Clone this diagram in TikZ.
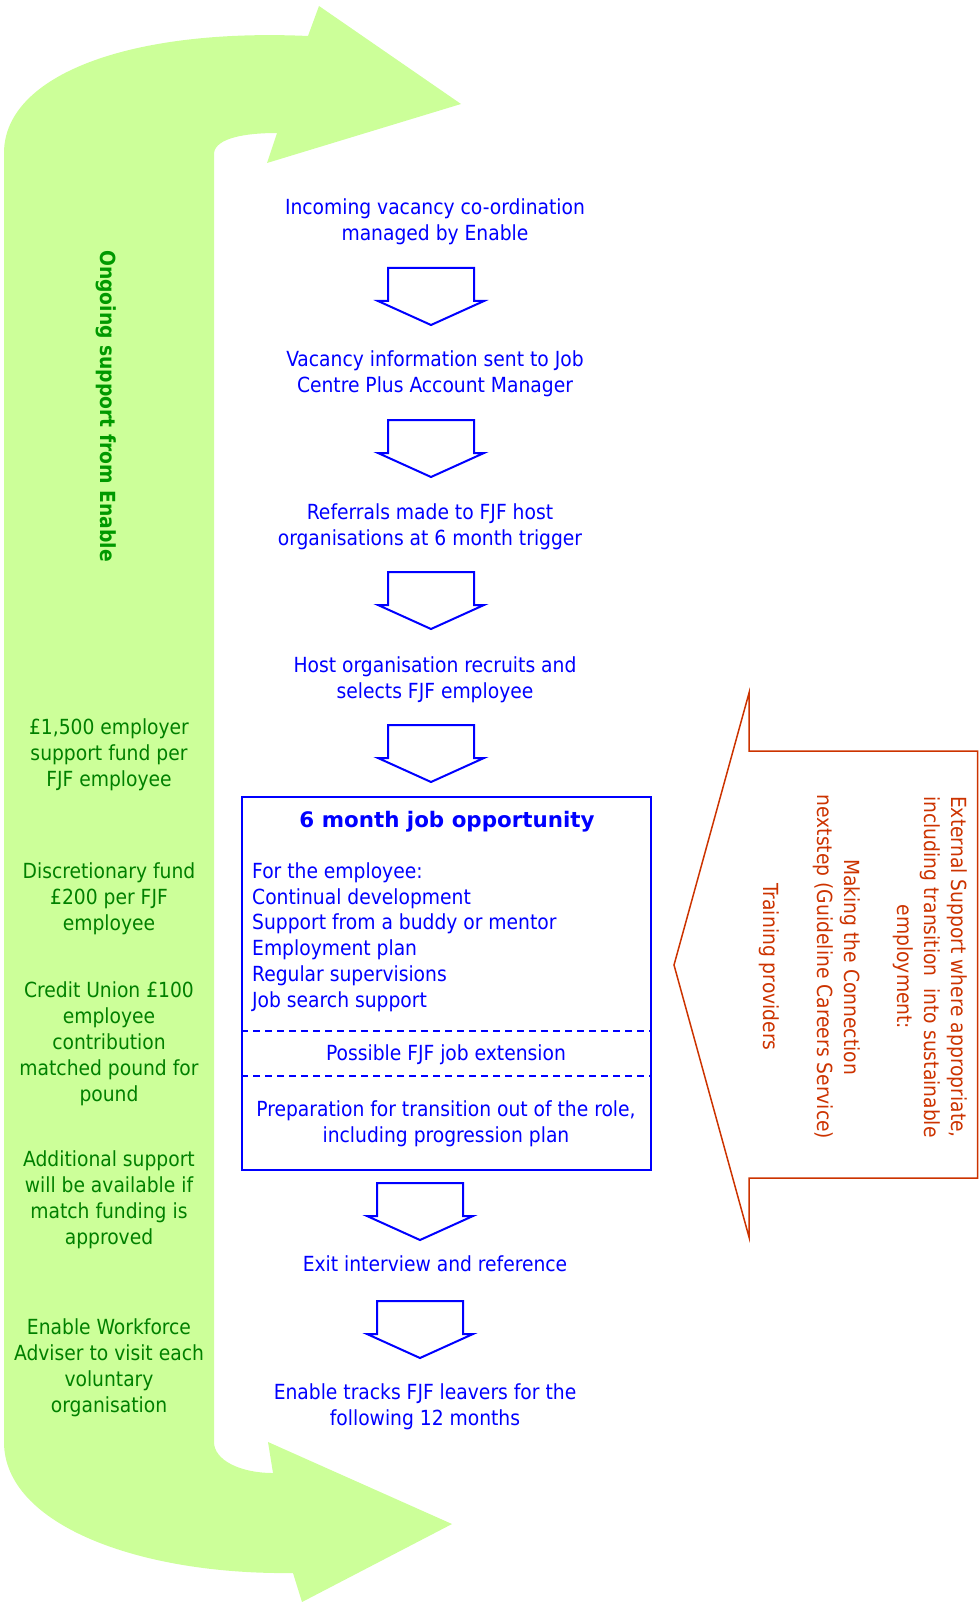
\documentclass[tikz,border=0pt]{standalone}
\usepackage{fontspec}
\setmainfont{DejaVu Sans Condensed}
\newfontfamily\widefont{DejaVu Sans}
\usepackage{tikz}
\usetikzlibrary{calc}

\definecolor{bandgreen}{HTML}{CCFF99}
\definecolor{darkgreen}{HTML}{008000}
\definecolor{titlegreen}{HTML}{009900}
\definecolor{flowblue}{HTML}{0000FF}
\definecolor{extred}{HTML}{CC3300}

\tikzset{
  darrow/.pic={\draw[flowblue, line width=2pt]
    (-43,0) -- (43,0) -- (43,33) -- (53,33) -- (0,57) -- (-53,33) -- (-43,33) -- cycle;}
}

\begin{document}
\begin{tikzpicture}[
  x=1pt, y=-1pt,
  flow/.style={text=flowblue, align=center, font=\fontsize{20.8}{26.4}\selectfont},
  side/.style={text=darkgreen, align=center, font=\fontsize{20.8}{26}\selectfont},
  ext/.style={text=extred, align=center, rotate=-90, font=\fontsize{20.8}{26.8}\selectfont},
  box/.style={draw=flowblue, line width=2pt, minimum width=409, minimum height=373},
  sep/.style={flowblue, line width=2pt, dash pattern=on 7pt off 5pt}
]
\useasboundingbox (0,0) rectangle (979,1602);

% ongoing support band
\fill[bandgreen] (4,153) -- (4,1442)
  .. controls (4,1525) and (140,1575) .. (293,1573)
  -- (302,1602) -- (452,1524) -- (268,1442) -- (273,1473)
  .. controls (240,1473) and (214,1460) .. (214,1442)
  -- (214,153)
  .. controls (216,138) and (245,133) .. (277,133)
  -- (267,163) -- (461,104) -- (319,6) -- (308,36)
  .. controls (130,28) and (4,75) .. (4,153) -- cycle;

% external support arrow
\draw[extred, line width=1.5pt] (674,965) -- (749,693) -- (749,751) -- (977.5,751)
  -- (977.5,1178) -- (749,1178) -- (749,1237) -- cycle;

\node[font=\fontsize{20.8}{26}\selectfont\bfseries, text=titlegreen, rotate=-90] (ongoing) at (106,406) {Ongoing support from Enable};
\node[side] (fund) at (109,755) {£1,500 employer\\support fund per\\FJF employee};
\node[side] (disc) at (109,899) {Discretionary fund\\£200 per FJF\\employee};
\node[side] (credit) at (109,1044) {Credit Union £100\\employee\\contribution\\matched pound for\\pound};
\node[side] (extra) at (109,1199.5) {Additional support\\will be available if\\match funding is\\approved};
\node[side] (adviser) at (109,1367.5) {Enable Workforce\\Adviser to visit each\\voluntary\\organisation};

\node[flow] (incoming) at (435,221.5) {Incoming vacancy co-ordination\\managed by Enable};
\node[flow] (vacancy) at (435,374) {Vacancy information sent to Job\\Centre Plus Account Manager};
\node[flow] (referral) at (430,526.5) {Referrals made to FJF host\\organisations at 6 month trigger};
\node[flow] (host) at (435,679.5) {Host organisation recruits and\\selects FJF employee};
\pic at (431,268) {darrow};
\pic at (431,420) {darrow};
\pic at (431,572) {darrow};
\pic at (431,725) {darrow};

\node[box] (job) at (446.5,983) {};
\node[flow, font=\fontsize{21.4}{26.4}\selectfont\widefont\bfseries] (title) at (447,822) {6 month job opportunity};
\node[flow, align=left, anchor=west, inner sep=0pt, font=\fontsize{20.8}{25.8}\selectfont] (duties) at (252,937)
  {For the employee:\\Continual development\\Support from a buddy or mentor\\Employment plan\\Regular supervisions\\Job search support};
\draw[sep] (job.west |- 0,1031) -- (job.east |- 0,1031);
\node[flow] (extend) at (446,1055) {Possible FJF job extension};
\draw[sep] (job.west |- 0,1076) -- (job.east |- 0,1076);
\node[flow] (prep) at (446,1123.5) {Preparation for transition out of the role,\\including progression plan};

\pic at (420,1183) {darrow};
\node[flow] (exit) at (435,1264) {Exit interview and reference};
\pic at (420,1301) {darrow};
\node[flow] (tracks) at (425,1407) {Enable tracks FJF leavers for the\\following 12 months};

\node[ext] (support) at (863.5,967) {External Support where appropriate,\\including transition\ \ into sustainable\\employment:\\[26.8pt]Making the Connection\\nextstep (Guideline Careers Service)\\[26.8pt]Training providers};
\end{tikzpicture}
\end{document}
